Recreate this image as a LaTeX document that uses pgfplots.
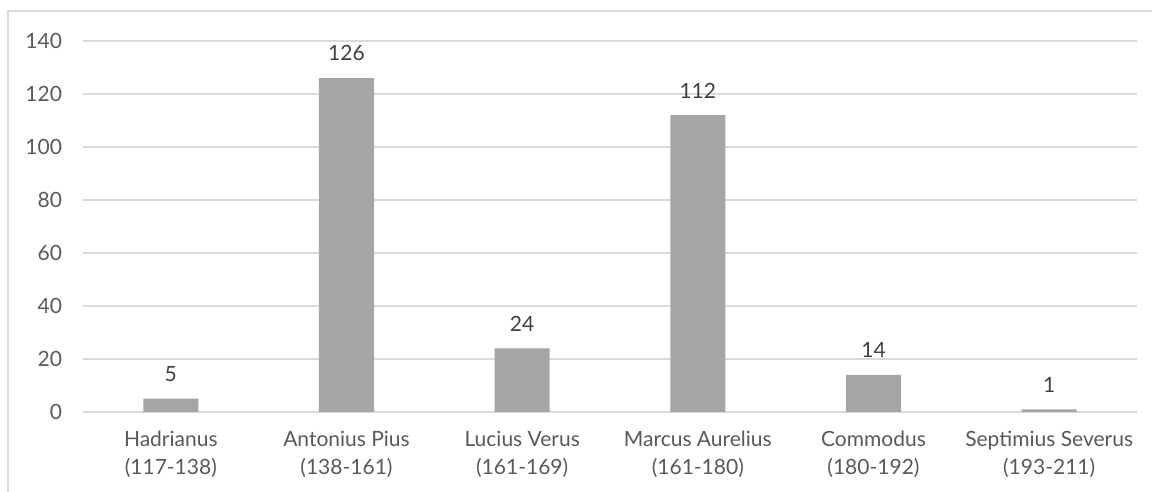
\documentclass[border=0pt]{standalone}
\usepackage{fontspec}
\setmainfont{Lato}
\usepackage{pgfplots}
\pgfplotsset{compat=1.18}
\definecolor{barc}{HTML}{A5A5A5}
\definecolor{gridc}{HTML}{D9D9D9}
\definecolor{txt}{HTML}{595959}
\definecolor{lbl}{HTML}{404040}
\begin{document}
\begin{tikzpicture}
\useasboundingbox (0,0) rectangle (576pt,246pt);
\draw[gridc, line width=0.75pt] (4pt,0pt) -- (4pt,240.5pt) -- (576pt,240.5pt);
\begin{axis}[
  at={(41.5pt,40pt)}, anchor=south west,
  scale only axis, width=527pt, height=185.5pt,
  xmin=-0.5, xmax=5.5, ymin=0, ymax=140,
  ytick={0,20,...,140}, xtick={0,1,2,3,4,5},
  xticklabels={{Hadrianus\\(117-138)},{Antonius Pius\\(138-161)},{Lucius Verus\\(161-169)},{Marcus Aurelius\\(161-180)},{Commodus\\(180-192)},{Septimius Severus\\(193-211)}},
  xticklabel style={align=center, font=\fontsize{10.5}{14}\selectfont, text=txt, yshift=-6pt},
  yticklabel style={font=\fontsize{10.5}{13}\selectfont, text=txt, xshift=-7pt},
  /pgf/number format/assume math mode=true,
  major tick length=0pt,
  axis x line*=bottom,
  axis y line*=left,
  y axis line style={draw=none},
  x axis line style={draw=gridc, line width=0.75pt, -},
  ymajorgrids, grid style={draw=gridc, line width=0.75pt},
  ybar, bar width=27.5pt,
  nodes near coords,
  nodes near coords style={font=\fontsize{10.5}{13}\selectfont, text=lbl, yshift=5pt},
  clip=false,
]
\addplot[fill=barc, draw=none] coordinates {(0,5) (1,126) (2,24) (3,112) (4,14) (5,1)};
\end{axis}
\end{tikzpicture}
\end{document}
